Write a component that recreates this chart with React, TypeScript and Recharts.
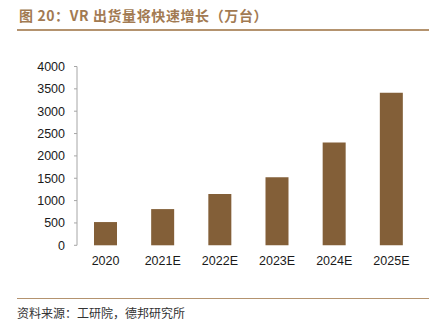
import React from 'react'
import { Bar, BarChart, XAxis, YAxis } from 'recharts'

// VR shipments (10k units)
const years = ['2020', '2021E', '2022E', '2023E', '2024E', '2025E']
const shipments = [520, 810, 1150, 1520, 2300, 3410]
const yTicks = [0, 500, 1000, 1500, 2000, 2500, 3000, 3500, 4000]
const boundaryTicks = [0, 1, 2, 3, 4, 5, 6]

const title = '图 20：VR 出货量将快速增长（万台）'
const source = '资料来源：工研院，德邦研究所'

const brown = '#835F38'
const gold = '#A27A52'
const rule = '#B4936F'
const axisGrey = '#A6A6A6'
const labelFont = '"Liberation Sans", Arial, sans-serif'
const cjkFont = '"Noto Sans CJK SC", sans-serif'

const data = years.map((year, i) => ({ year, value: shipments[i] }))

export default function App() {
  return (
    <div style={{ position: 'relative', width: 440, height: 331, margin: -8, background: '#fff' }}>
      <div
        style={{
          position: 'absolute',
          left: 19,
          top: 6,
          fontFamily: cjkFont,
          fontWeight: 700,
          fontSize: 14,
          letterSpacing: 0.6,
          lineHeight: '18px',
          color: gold,
          whiteSpace: 'pre',
        }}
      >
        {title}
      </div>
      <div style={{ position: 'absolute', left: 17, top: 29, width: 412, height: 1.5, background: rule }} />

      <div style={{ position: 'absolute', left: 0, top: 0 }}>
        <BarChart
          width={440}
          height={331}
          data={data}
          margin={{ top: 66.5, right: 20, left: 0, bottom: 55.7 }}
        >
          <XAxis
            xAxisId="bounds"
            type="number"
            domain={[0, 6]}
            ticks={boundaryTicks}
            tickFormatter={() => ''}
            height={0}
            tickSize={3}
            axisLine={{ stroke: axisGrey }}
            tickLine={{ stroke: axisGrey }}
            allowDataOverflow
          />
          <XAxis
            xAxisId="cat"
            dataKey="year"
            height={30}
            axisLine={false}
            tickLine={false}
            tickMargin={5}
            interval={0}
            tick={{ fill: '#1a1a1a', fontSize: 12.5, fontFamily: labelFont }}
          />
          <YAxis
            width={77}
            domain={[0, 4000]}
            ticks={yTicks}
            interval={0}
            tickSize={3}
            tickMargin={9}
            axisLine={{ stroke: axisGrey }}
            tickLine={{ stroke: axisGrey }}
            tick={{ fill: '#1a1a1a', fontSize: 12.5, fontFamily: labelFont }}
          />
          <Bar dataKey="value" xAxisId="cat" fill={brown} barSize={23} isAnimationActive={false} />
        </BarChart>
      </div>

      <div style={{ position: 'absolute', left: 17, top: 297.5, width: 412, height: 1.5, background: rule }} />
      <div
        style={{
          position: 'absolute',
          left: 17,
          top: 305,
          fontFamily: cjkFont,
          fontSize: 12,
          lineHeight: '16px',
          color: '#333',
          whiteSpace: 'pre',
        }}
      >
        {source}
      </div>
    </div>
  )
}
